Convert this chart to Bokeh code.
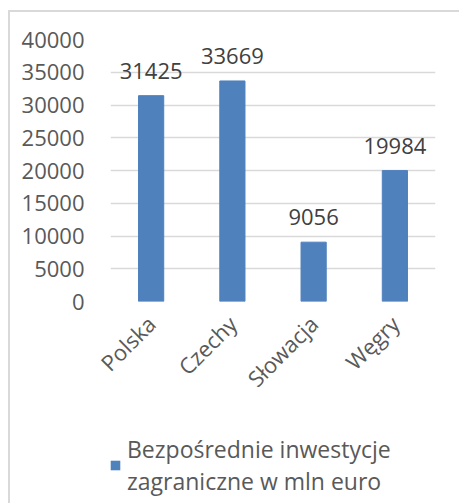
import math
from bokeh.plotting import figure
from bokeh.layouts import column
from bokeh.models import Range1d, FactorRange, ColumnDataSource, Legend, LegendItem, SingleIntervalTicker, LabelSet
from bokeh.core.properties import value
from bokeh.embed import file_html
from bokeh.resources import INLINE

categories = ["Polska", "Czechy", "Słowacja", "Węgry"]
values = [31425, 33669, 9056, 19984]
series_name = "Bezpośrednie inwestycje\nzagraniczne w mln euro"

FONT = "Open Sans"
FS = "22px"
TXT = "#595959"
BAR = "#4f81bd"

src = ColumnDataSource(dict(cat=categories, val=values, lbl=[str(v) for v in values]))

p = figure(width=449, height=400, output_backend="svg", toolbar_location=None,
           x_range=FactorRange(*categories, range_padding=0), y_range=Range1d(0, 40000),
           min_border_left=100, min_border_right=24, min_border_top=27, min_border_bottom=111)
p.outline_line_color = None
p.background_fill_color = "white"
p.border_fill_color = "white"

r = p.vbar(x="cat", top="val", width=0.31, color=BAR, source=src)

labels = LabelSet(x="cat", y="val", text="lbl", source=src, text_align="center",
                  text_baseline="alphabetic", y_offset=17, text_font=value(FONT),
                  text_font_size=value(FS), text_color="#404040")
p.add_layout(labels)

p.yaxis.ticker = SingleIntervalTicker(interval=5000)
for ax in (p.xaxis[0], p.yaxis[0]):
    ax.axis_line_color = None
    ax.major_tick_line_color = None
    ax.minor_tick_line_color = None
    ax.major_label_text_font = FONT
    ax.major_label_text_font_size = FS
    ax.major_label_text_color = TXT
p.yaxis.major_label_standoff = 20
p.xaxis.major_label_standoff = 12
p.xaxis.major_label_orientation = math.pi / 4

p.xgrid.grid_line_color = None
p.ygrid.grid_line_color = "#d9d9d9"
p.ygrid.grid_line_width = 1.5

# legend panel (same series, bars kept far below its visible range)
p2 = figure(width=449, height=91, output_backend="svg", toolbar_location=None,
            x_range=FactorRange(*categories, range_padding=0), y_range=Range1d(100000, 200000),
            min_border=0, x_axis_location=None, y_axis_location=None)
p2.outline_line_color = None
p2.xgrid.grid_line_color = None
p2.ygrid.grid_line_color = None
r2 = p2.vbar(x="cat", top="val", width=0.31, fill_color=BAR, line_color=None, source=src)

legend = Legend(items=[LegendItem(label=series_name, renderers=[r2])],
                location=(-1, 6), orientation="vertical",
                padding=0, margin=0, spacing=0, glyph_width=12, glyph_height=12,
                label_standoff=6, border_line_color=None, background_fill_alpha=0,
                label_text_font=FONT, label_text_font_size="23px", label_text_color=TXT,
                label_text_line_height=1.45)
p2.add_layout(legend, "center")

layout = column(p, p2, spacing=0)
layout.styles = {"border-top": "2px solid #d9d9d9", "border-left": "2px solid #d9d9d9",
                 "margin-top": "10px", "margin-left": "8px"}

open("out.html", "w").write(file_html(layout, INLINE))
